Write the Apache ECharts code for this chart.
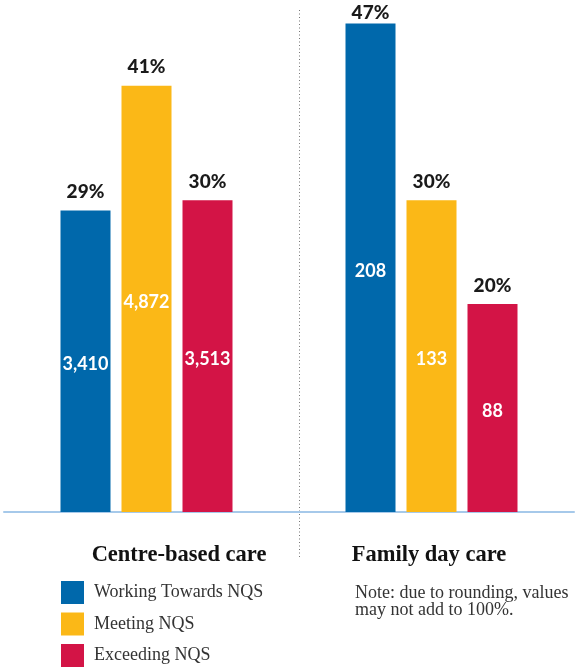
<!DOCTYPE html>
<html>
<head>
<meta charset="utf-8">
<script src="https://cdn.jsdelivr.net/npm/echarts@6/dist/echarts.min.js"></script>
<style>
  html, body { margin: 0; padding: 0; background: #ffffff; }
  #chart { width: 577px; height: 668px; }
</style>
</head>
<body>
<div id="chart"></div>
<script>
// Service types shown along the x axis
var categories = ['Centre-based care', 'Family day care'];

// Share of services in each rating band (per cent)
var workingPct = [29, 47];
var meetingPct = [41, 30];
var exceedingPct = [30, 20];

// Number of services in each rating band
var workingCount = [3410, 208];
var meetingCount = [4872, 133];
var exceedingCount = [3513, 88];

var seriesNames = ['Working Towards NQS', 'Meeting NQS', 'Exceeding NQS'];
var colors = ['#0068ab', '#fbb817', '#d31446'];

var pctSets = [workingPct, meetingPct, exceedingPct];
var countSets = [workingCount, meetingCount, exceedingCount];

var numFont = 'Lato, "Noto Sans", sans-serif';
var serifFont = '"Liberation Serif", "DejaVu Serif", serif';

var chart = echarts.init(document.getElementById('chart'), null, { renderer: 'canvas' });

var barSeries = [];
// Coloured bars, each carrying its service count in the middle
pctSets.forEach(function (vals, i) {
  barSeries.push({
    name: seriesNames[i],
    type: 'bar',
    xAxisIndex: 0,
    barWidth: 50,
    barGap: '22%',
    itemStyle: { color: colors[i] },
    data: vals.map(function (v, j) { return { value: v, count: countSets[i][j] }; }),
    label: {
      show: true,
      position: 'inside',
      offset: [0, 3],
      color: '#ffffff',
      fontFamily: numFont,
      fontWeight: 'bold',
      fontSize: 18,
      formatter: function (p) { return p.data.count.toLocaleString('en-US'); }
    }
  });
});
// Matching transparent bars on an overlaid axis that carry the percentage above each bar
pctSets.forEach(function (vals, i) {
  barSeries.push({
    name: seriesNames[i] + ' share',
    type: 'bar',
    xAxisIndex: 1,
    barWidth: 50,
    barGap: '22%',
    silent: true,
    itemStyle: { color: 'rgba(0,0,0,0)' },
    data: vals.map(function (v) {
      return v >= 45 ? { value: v, label: { distance: 1 } } : { value: v };
    }),
    label: {
      show: true,
      position: 'top',
      distance: 9,
      color: '#1a1a1a',
      fontFamily: numFont,
      fontWeight: 900,
      fontSize: 19,
      formatter: function (p) { return p.value + '%'; }
    }
  });
});

var option = {
  animation: false,
  backgroundColor: '#ffffff',
  grid: { left: 4, right: 3, top: 13, bottom: 156 },
  legend: {
    orient: 'vertical',
    left: 61,
    top: 581,
    bottom: -40,
    itemWidth: 23,
    itemHeight: 23,
    itemGap: 8.5,
    padding: 0,
    icon: 'rect',
    data: seriesNames,
    selectedMode: false,
    textStyle: {
      fontFamily: serifFont,
      fontSize: 18,
      color: '#333333',
      padding: [0, 0, 0, 5]
    }
  },
  xAxis: [
    {
      type: 'category',
      data: categories,
      axisLine: { show: true, lineStyle: { color: '#a6c9ea', width: 2 } },
      axisTick: { show: false },
      axisLabel: {
        margin: 32,
        formatter: function (v, idx) { return idx === 0 ? '{c|' + v + '}' : '{f|' + v + '}'; },
        rich: {
          c: { fontFamily: serifFont, fontWeight: 'bold', fontSize: 22.5, color: '#111111', padding: [0, 0, 0, 65] },
          f: { fontFamily: serifFont, fontWeight: 'bold', fontSize: 22.5, color: '#111111', padding: [0, 5, 0, 0] }
        }
      },
      splitLine: { show: false }
    },
    {
      type: 'category',
      data: categories,
      show: false
    }
  ],
  yAxis: {
    type: 'value',
    min: 0,
    max: 48,
    show: false,
    splitLine: { show: false }
  },
  graphic: [
    {
      type: 'line',
      shape: { x1: 299.5, y1: 10, x2: 299.5, y2: 559 },
      style: { stroke: '#777777', lineWidth: 1, lineDash: [1, 2.5] },
      z: -1
    },
    {
      type: 'text',
      left: 355,
      top: 584,
      style: {
        text: 'Note: due to rounding, values\nmay not add to 100%.',
        font: '18px ' + serifFont,
        fill: '#333333',
        lineHeight: 17.5
      }
    }
  ],
  series: barSeries
};

chart.setOption(option);
</script>
</body>
</html>
